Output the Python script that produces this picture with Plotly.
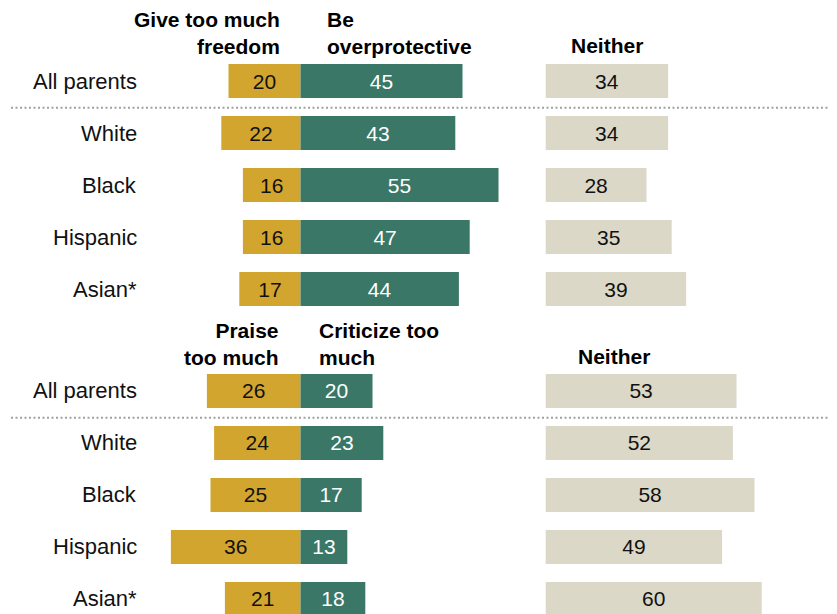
import plotly.graph_objects as go

# ---------------- data ----------------
groups = ["All parents", "White", "Black", "Hispanic", "Asian*"]

freedom = [20, 22, 16, 16, 17]
overprotective = [45, 43, 55, 47, 44]
neither_1 = [34, 34, 28, 35, 39]

praise = [26, 24, 25, 36, 21]
criticize = [20, 23, 17, 13, 18]
neither_2 = [53, 52, 58, 49, 60]

# ---------------- styling / layout constants ----------------
W, H = 837, 614
PAGE_OFFSET = 8            # default page margin around the figure
PX_PER_UNIT = 3.6          # horizontal pixels per percentage point
ZERO_PX = 300.5            # page pixel position of the diverging axis
NEITHER_BASE_PX = 545.7    # page pixel where the "Neither" bars start
ROW_PX = 52                # vertical distance between rows
FIRST_ROW_PX = 81
PANEL_GAP = 1.96           # extra rows between panels

GOLD = "#D2A52F"
GREEN = "#3A7767"
GRAY = "#DBD8C7"
FONT = "Liberation Sans, Arial, sans-serif"


def xd(px):
    return (px - ZERO_PX) / PX_PER_UNIT


x_range = [xd(PAGE_OFFSET), xd(PAGE_OFFSET + W)]
y_top = (PAGE_OFFSET - FIRST_ROW_PX) / ROW_PX
y_bot = (PAGE_OFFSET + H - FIRST_ROW_PX) / ROW_PX
neither_base = xd(NEITHER_BASE_PX)

rows1 = [i for i in range(len(groups))]
rows2 = [len(groups) - 1 + PANEL_GAP + i for i in range(len(groups))]

fig = go.Figure()
bar_w = 34 / ROW_PX


def add_bars(rows, left, right, neither):
    fig.add_trace(go.Bar(
        y=rows, x=left, base=[-v for v in left], orientation="h",
        marker=dict(color=GOLD, line=dict(width=0)), width=bar_w,
        text=[str(v) for v in left], textposition="inside",
        insidetextanchor="middle", textangle=0,
        textfont=dict(family=FONT, size=21, color="#111111"),
        hoverinfo="skip", showlegend=False))
    fig.add_trace(go.Bar(
        y=rows, x=right, base=[0] * len(right), orientation="h",
        marker=dict(color=GREEN, line=dict(width=0)), width=bar_w,
        text=[str(v) for v in right], textposition="inside",
        insidetextanchor="middle", textangle=0,
        textfont=dict(family=FONT, size=21, color="#ffffff"),
        hoverinfo="skip", showlegend=False))
    fig.add_trace(go.Bar(
        y=rows, x=neither, base=[neither_base] * len(neither), orientation="h",
        marker=dict(color=GRAY, line=dict(width=0)), width=bar_w,
        text=[str(v) for v in neither], textposition="inside",
        insidetextanchor="middle", textangle=0,
        textfont=dict(family=FONT, size=21, color="#111111"),
        hoverinfo="skip", showlegend=False))


add_bars(rows1, freedom, overprotective, neither_1)
add_bars(rows2, praise, criticize, neither_2)

annotations = []
# row labels
for rows in (rows1, rows2):
    for r, g in zip(rows, groups):
        annotations.append(dict(
            x=xd(139), y=r, xref="x", yref="y", text=g, showarrow=False,
            xanchor="right", yanchor="middle",
            font=dict(family=FONT, size=22, color="#111111")))

# headers
hdr_font = dict(family=FONT, size=21, color="#000000")


def header(text, xpx, row, dy_rows, xanchor, align):
    annotations.append(dict(
        x=xd(xpx), y=row - dy_rows, xref="x", yref="y", text=text,
        showarrow=False, xanchor=xanchor, yanchor="bottom", align=align,
        font=hdr_font))


header("<b>Give too much</b><br><b>freedom</b>", 282, rows1[0], 0.40, "right", "right")
header("<b>Be</b><br><b>overprotective</b>", 325, rows1[0], 0.40, "left", "left")
header("<b>Neither</b>", 607, rows1[0], 0.42, "center", "center")
header("<b>Praise</b><br><b>too much</b>", 281, rows2[0], 0.39, "right", "right")
header("<b>Criticize too</b><br><b>much</b>", 317, rows2[0], 0.39, "left", "left")
header("<b>Neither</b>", 614, rows2[0], 0.41, "center", "center")

# dotted separators
shapes = []
for rows in (rows1, rows2):
    yy = rows[0] + 0.515
    shapes.append(dict(
        type="line", xref="x", yref="y", x0=xd(11), x1=xd(836), y0=yy, y1=yy,
        line=dict(color="#a0a0a0", width=2, dash="2px,2.5px")))

fig.update_layout(
    width=W, height=H,
    margin=dict(l=0, r=0, t=0, b=0),
    paper_bgcolor="white", plot_bgcolor="white",
    barmode="overlay",
    xaxis=dict(range=x_range, visible=False, fixedrange=True),
    yaxis=dict(range=[y_bot, y_top], visible=False, fixedrange=True),
    annotations=annotations, shapes=shapes,
    uniformtext=dict(minsize=21, mode="show"),
)

fig.write_html("out.html")
